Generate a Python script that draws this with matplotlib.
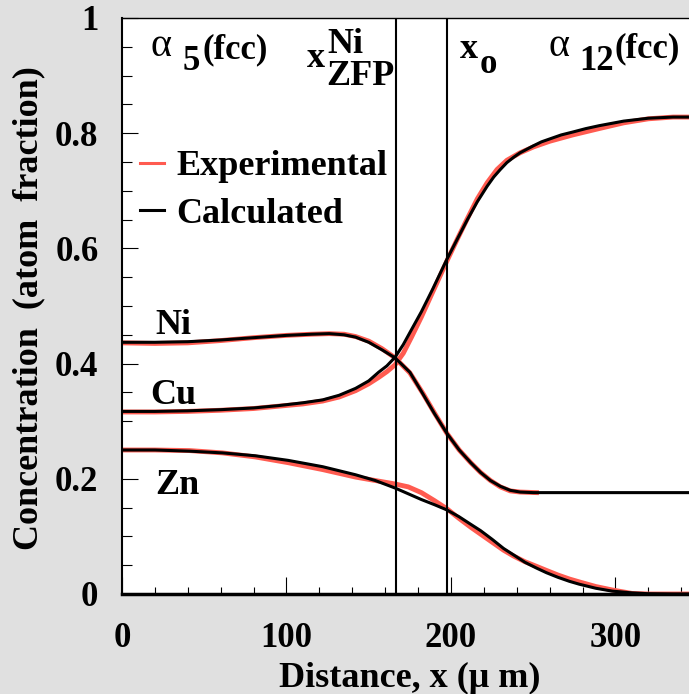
""" diffusion couple concentration profiles, experimental vs calculated """
import matplotlib
matplotlib.use('Agg')
from matplotlib import pyplot as plt
from matplotlib.ticker import MultipleLocator

W, H = 689, 694
FONT = 'Liberation Serif'

# calculated profiles (distance in um, atom fraction)
calc_ni_x = [0, 20, 40, 60, 80, 100, 115, 126, 135, 142, 150, 158, 166, 175,
             183, 190, 197.5, 205, 212, 218, 224, 230, 236, 242, 250, 345]
calc_ni = [.437, .437, .438, .441, .445, .449, .451, .452, .450, .446, .437,
           .424, .410, .385, .347, .313, .279, .250, .228, .211, .197, .187,
           .180, .177, .176, .176]

calc_cu_x = [0, 20, 40, 60, 80, 95, 110, 122, 132, 142, 150, 156, 161, 166,
             171, 176, 182, 189, 197.5, 204, 210, 216, 222, 226, 230, 234,
             238, 242, 246, 250, 255, 260, 267, 274, 282, 290, 305, 320, 335,
             345]
calc_cu = [.317, .317, .318, .320, .323, .327, .332, .337, .345, .357, .370,
           .385, .396, .411, .433, .459, .490, .530, .581, .617, .650, .681,
           .708, .724, .737, .749, .758, .766, .772, .778, .785, .790, .797,
           .802, .808, .813, .821, .826, .828, .828]

calc_zn_x = [0, 20, 41, 61, 81, 101, 122, 142, 154, 166, 174, 182, 190,
             197.5, 205, 212, 218, 225, 232, 238, 245, 252, 258, 265, 272,
             278, 288, 298, 310, 320, 335, 345]
calc_zn = [.250, .250, .248, .245, .240, .232, .221, .207, .197, .184, .174,
           .164, .155, .146, .134, .121, .110, .095, .079, .068, .055, .045,
           .037, .029, .022, .017, .010, .005, .002, .0005, 0, 0]

# experimental profiles
exp_ni_x = [0, 20, 40, 60, 80, 100, 115, 126, 135, 142, 150, 158, 166, 175,
            183, 190, 197.5, 205, 212, 218, 224, 230, 236, 242, 252]
exp_ni = [.436, .435, .436, .440, .445, .449, .451, .452, .451, .447, .439,
          .426, .410, .384, .348, .314, .279, .250, .228, .211, .197, .186,
          .179, .177, .176]

exp_cu_x = [0, 20, 40, 60, 80, 95, 110, 122, 132, 142, 150, 156, 161, 166,
            171, 176, 182, 189, 197.5, 204, 210, 216, 222, 228, 234, 242,
            250, 260, 274, 290, 305, 320, 335, 345]
exp_cu = [.316, .316, .317, .319, .322, .326, .330, .335, .342, .353, .365,
          .376, .386, .398, .418, .446, .481, .525, .578, .617, .652, .686,
          .714, .737, .753, .766, .776, .786, .797, .808, .818, .825, .828,
          .828]

exp_zn_x = calc_zn_x
exp_zn = [.250, .250, .249, .245, .238, .228, .216, .203, .197, .191, .186,
          .176, .162, .148, .131, .116, .104, .090, .076, .066, .056, .048,
          .041, .033, .026, .021, .013, .007, .001, 0, 0, 0]

x_zfp = 166.5
x_o = 197.5

yticks = [0, 0.2, 0.4, 0.6, 0.8, 1.0]
ytick_labels = ['0', '0.2', '0.4', '0.6', '0.8', '1']
xticks = [0, 100, 200, 300]

RED = '#ff5b50'


def px(x, y):
    """ pixel position to figure fraction """
    return x / W, 1 - y / H


def main():
    plt.rcParams['font.family'] = FONT
    plt.rcParams['font.weight'] = 'bold'

    fig = plt.figure(figsize=(W / 100, H / 100), dpi=100, facecolor='#e0e0e0')
    ax = fig.add_axes([122 / W, (H - 594) / H, (W - 122) / W, 576 / H])
    ax.set_facecolor('white')

    ax.plot(exp_ni_x, exp_ni, color=RED, lw=3.5, label='Experimental')
    ax.plot(exp_cu_x, exp_cu, color=RED, lw=3.5)
    ax.plot(exp_zn_x, exp_zn, color=RED, lw=3.5)
    ax.plot(calc_ni_x, calc_ni, color='black', lw=2.2, label='Calculated')
    ax.plot(calc_cu_x, calc_cu, color='black', lw=2.2)
    ax.plot(calc_zn_x, calc_zn, color='black', lw=2.2)

    ax.axvline(x_zfp, color='black', lw=1.5)
    ax.axvline(x_o, color='black', lw=1.5)

    ax.set_xlim(0, 344.7)
    ax.set_ylim(0, 1)
    ax.set_xticks(xticks)
    ax.set_xticklabels([str(t) for t in xticks])
    ax.set_yticks(yticks)
    ax.set_yticklabels(ytick_labels)
    ax.xaxis.set_minor_locator(MultipleLocator(20))
    ax.yaxis.set_minor_locator(MultipleLocator(0.05))
    ax.tick_params(which='both', direction='in', top=False, right=False,
                   width=0.8, labelsize=25)
    ax.tick_params(axis='x', which='major', length=12, pad=20)
    ax.tick_params(axis='x', which='minor', length=5)
    ax.tick_params(axis='y', which='major', length=11.5, pad=17)
    ax.tick_params(axis='y', which='minor', length=7)
    ax.spines['right'].set_visible(False)
    ax.spines['bottom'].set_linewidth(2.5)
    ax.spines['left'].set_linewidth(1.5)
    ax.spines['top'].set_linewidth(1.0)

    leg = ax.legend(loc='upper left', bbox_to_anchor=(0.0317, 0.771),
                    frameon=False, fontsize=26, handlelength=0.67,
                    handletextpad=0.33, labelspacing=0.4, borderpad=0,
                    borderaxespad=0)
    for line in leg.get_lines():
        line.set_linewidth(2.2)

    # element labels
    fig.text(*px(155, 334), 'Ni', fontsize=26)
    fig.text(*px(150, 404), 'Cu', fontsize=26)
    fig.text(*px(155, 494), 'Zn', fontsize=26)

    # phase / position annotations
    fig.text(*px(150, 56), '\u03b1', fontsize=29, weight='normal')
    fig.text(*px(183, 70), '5', fontsize=25)
    fig.text(*px(203, 58), '(fcc)', fontsize=25)
    fig.text(*px(549, 56), '\u03b1', fontsize=29, weight='normal')
    fig.text(*px(579, 70), '12', fontsize=25)
    fig.text(*px(614, 57), '(fcc)', fontsize=25)
    fig.text(*px(307, 67), 'x', fontsize=26)
    fig.text(*px(327, 53), 'Ni', fontsize=26)
    fig.text(*px(326, 85), 'ZFP', fontsize=26)
    fig.text(*px(460, 58), 'x', fontsize=26)
    fig.text(*px(480, 73), 'o', fontsize=25)

    fig.text(*px(410, 687), 'Distance, x (\u03bc m)', fontsize=26,
             ha='center', va='baseline')
    fig.text(*px(29, 308), 'Concentration  (atom  fraction)', fontsize=26,
             rotation=90, ha='center', va='center')

    fig.savefig('out.png', dpi=100, facecolor=fig.get_facecolor())


if __name__ == "__main__":
    main()
